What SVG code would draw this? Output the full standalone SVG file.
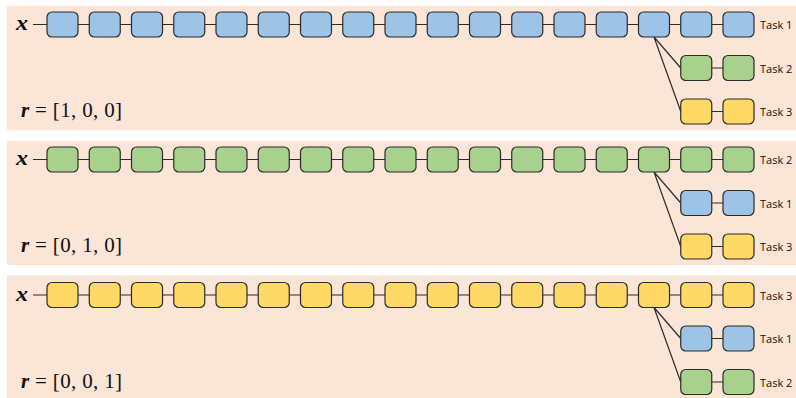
<svg xmlns="http://www.w3.org/2000/svg" xmlns:xlink="http://www.w3.org/1999/xlink" width="796" height="398" viewBox="0 0 796 398">
<style>
.bg{fill:#FBE5D6;}
.b{fill:#9DC3E6;stroke:#2b2b2b;stroke-width:1.2;}
.g{fill:#A9D18E;stroke:#2b2b2b;stroke-width:1.2;}
.y{fill:#FFD966;stroke:#2b2b2b;stroke-width:1.2;}
.ln{stroke:#2b2b2b;stroke-width:1.2;fill:none;}
.task{font-family:"Open Sans","Liberation Sans",sans-serif;font-size:11px;fill:#111;}
.math{font-family:"Liberation Serif","DejaVu Serif",serif;font-size:21px;fill:#111;}
.mb{font-weight:bold;font-style:italic;}
</style>
<defs>
<g id="conn">
<path class="ln" d="M33 24.5H47 M78 24.5H89.25 M120.25 24.5H131.5 M162.5 24.5H173.75 M204.75 24.5H216 M247 24.5H258.25 M289.25 24.5H300.5 M331.5 24.5H342.75 M373.75 24.5H385 M416 24.5H427.25 M458.25 24.5H469.5 M500.5 24.5H511.75 M542.75 24.5H554 M585 24.5H596.25 M627.25 24.5H638.5 M669.5 24.5H680.75 M711.75 24.5H723 M711.75 68H723 M711.75 111.5H723 M654 37L680.75 68 M654 37L680.75 111.5"/>
</g>
</defs>

<!-- Panel 1 -->
<g id="panel1">
<rect class="bg" x="7" y="6" width="789" height="124"/>
<g id="connectors1"><use xlink:href="#conn"/></g>
<g id="p1n1"><rect class="b" x="47" y="12" width="31" height="25" rx="5"/></g>
<g id="p1n2"><rect class="b" x="89.25" y="12" width="31" height="25" rx="5"/></g>
<g id="p1n3"><rect class="b" x="131.5" y="12" width="31" height="25" rx="5"/></g>
<g id="p1n4"><rect class="b" x="173.75" y="12" width="31" height="25" rx="5"/></g>
<g id="p1n5"><rect class="b" x="216" y="12" width="31" height="25" rx="5"/></g>
<g id="p1n6"><rect class="b" x="258.25" y="12" width="31" height="25" rx="5"/></g>
<g id="p1n7"><rect class="b" x="300.5" y="12" width="31" height="25" rx="5"/></g>
<g id="p1n8"><rect class="b" x="342.75" y="12" width="31" height="25" rx="5"/></g>
<g id="p1n9"><rect class="b" x="385" y="12" width="31" height="25" rx="5"/></g>
<g id="p1n10"><rect class="b" x="427.25" y="12" width="31" height="25" rx="5"/></g>
<g id="p1n11"><rect class="b" x="469.5" y="12" width="31" height="25" rx="5"/></g>
<g id="p1n12"><rect class="b" x="511.75" y="12" width="31" height="25" rx="5"/></g>
<g id="p1n13"><rect class="b" x="554" y="12" width="31" height="25" rx="5"/></g>
<g id="p1n14"><rect class="b" x="596.25" y="12" width="31" height="25" rx="5"/></g>
<g id="p1n15"><rect class="b" x="638.5" y="12" width="31" height="25" rx="5"/></g>
<g id="p1n16"><rect class="b" x="680.75" y="12" width="31" height="25" rx="5"/></g>
<g id="p1n17"><rect class="b" x="723" y="12" width="31" height="25" rx="5"/></g>
<g id="p1b1"><rect class="g" x="680.75" y="55.5" width="31" height="25" rx="5"/></g>
<g id="p1b2"><rect class="g" x="723" y="55.5" width="31" height="25" rx="5"/></g>
<g id="p1c1"><rect class="y" x="680.75" y="99" width="31" height="25" rx="5"/></g>
<g id="p1c2"><rect class="y" x="723" y="99" width="31" height="25" rx="5"/></g>
<text class="task" x="760" y="29">Task 1</text>
<text class="task" x="760" y="72.5">Task 2</text>
<text class="task" x="760" y="116">Task 3</text>
<text class="math mb" x="16" y="30" textLength="12" lengthAdjust="spacingAndGlyphs">x</text>
<text class="math" x="21" y="117" textLength="101" lengthAdjust="spacing"><tspan class="mb">r</tspan> = [1, 0, 0]</text>
</g>

<!-- Panel 2 -->
<g id="panel2" transform="translate(0,135)">
<rect class="bg" x="7" y="6" width="789" height="124"/>
<g id="connectors2"><use xlink:href="#conn"/></g>
<g id="p2n1"><rect class="g" x="47" y="12" width="31" height="25" rx="5"/></g>
<g id="p2n2"><rect class="g" x="89.25" y="12" width="31" height="25" rx="5"/></g>
<g id="p2n3"><rect class="g" x="131.5" y="12" width="31" height="25" rx="5"/></g>
<g id="p2n4"><rect class="g" x="173.75" y="12" width="31" height="25" rx="5"/></g>
<g id="p2n5"><rect class="g" x="216" y="12" width="31" height="25" rx="5"/></g>
<g id="p2n6"><rect class="g" x="258.25" y="12" width="31" height="25" rx="5"/></g>
<g id="p2n7"><rect class="g" x="300.5" y="12" width="31" height="25" rx="5"/></g>
<g id="p2n8"><rect class="g" x="342.75" y="12" width="31" height="25" rx="5"/></g>
<g id="p2n9"><rect class="g" x="385" y="12" width="31" height="25" rx="5"/></g>
<g id="p2n10"><rect class="g" x="427.25" y="12" width="31" height="25" rx="5"/></g>
<g id="p2n11"><rect class="g" x="469.5" y="12" width="31" height="25" rx="5"/></g>
<g id="p2n12"><rect class="g" x="511.75" y="12" width="31" height="25" rx="5"/></g>
<g id="p2n13"><rect class="g" x="554" y="12" width="31" height="25" rx="5"/></g>
<g id="p2n14"><rect class="g" x="596.25" y="12" width="31" height="25" rx="5"/></g>
<g id="p2n15"><rect class="g" x="638.5" y="12" width="31" height="25" rx="5"/></g>
<g id="p2n16"><rect class="g" x="680.75" y="12" width="31" height="25" rx="5"/></g>
<g id="p2n17"><rect class="g" x="723" y="12" width="31" height="25" rx="5"/></g>
<g id="p2b1"><rect class="b" x="680.75" y="55.5" width="31" height="25" rx="5"/></g>
<g id="p2b2"><rect class="b" x="723" y="55.5" width="31" height="25" rx="5"/></g>
<g id="p2c1"><rect class="y" x="680.75" y="99" width="31" height="25" rx="5"/></g>
<g id="p2c2"><rect class="y" x="723" y="99" width="31" height="25" rx="5"/></g>
<text class="task" x="760" y="29">Task 2</text>
<text class="task" x="760" y="72.5">Task 1</text>
<text class="task" x="760" y="116">Task 3</text>
<text class="math mb" x="16" y="30" textLength="12" lengthAdjust="spacingAndGlyphs">x</text>
<text class="math" x="21" y="117" textLength="101" lengthAdjust="spacing"><tspan class="mb">r</tspan> = [0, 1, 0]</text>
</g>

<!-- Panel 3 -->
<g id="panel3" transform="translate(0,270.5)">
<rect class="bg" x="7" y="5" width="789" height="124"/>
<g id="connectors3"><use xlink:href="#conn"/></g>
<g id="p3n1"><rect class="y" x="47" y="12" width="31" height="25" rx="5"/></g>
<g id="p3n2"><rect class="y" x="89.25" y="12" width="31" height="25" rx="5"/></g>
<g id="p3n3"><rect class="y" x="131.5" y="12" width="31" height="25" rx="5"/></g>
<g id="p3n4"><rect class="y" x="173.75" y="12" width="31" height="25" rx="5"/></g>
<g id="p3n5"><rect class="y" x="216" y="12" width="31" height="25" rx="5"/></g>
<g id="p3n6"><rect class="y" x="258.25" y="12" width="31" height="25" rx="5"/></g>
<g id="p3n7"><rect class="y" x="300.5" y="12" width="31" height="25" rx="5"/></g>
<g id="p3n8"><rect class="y" x="342.75" y="12" width="31" height="25" rx="5"/></g>
<g id="p3n9"><rect class="y" x="385" y="12" width="31" height="25" rx="5"/></g>
<g id="p3n10"><rect class="y" x="427.25" y="12" width="31" height="25" rx="5"/></g>
<g id="p3n11"><rect class="y" x="469.5" y="12" width="31" height="25" rx="5"/></g>
<g id="p3n12"><rect class="y" x="511.75" y="12" width="31" height="25" rx="5"/></g>
<g id="p3n13"><rect class="y" x="554" y="12" width="31" height="25" rx="5"/></g>
<g id="p3n14"><rect class="y" x="596.25" y="12" width="31" height="25" rx="5"/></g>
<g id="p3n15"><rect class="y" x="638.5" y="12" width="31" height="25" rx="5"/></g>
<g id="p3n16"><rect class="y" x="680.75" y="12" width="31" height="25" rx="5"/></g>
<g id="p3n17"><rect class="y" x="723" y="12" width="31" height="25" rx="5"/></g>
<g id="p3b1"><rect class="b" x="680.75" y="55.5" width="31" height="25" rx="5"/></g>
<g id="p3b2"><rect class="b" x="723" y="55.5" width="31" height="25" rx="5"/></g>
<g id="p3c1"><rect class="g" x="680.75" y="99" width="31" height="25" rx="5"/></g>
<g id="p3c2"><rect class="g" x="723" y="99" width="31" height="25" rx="5"/></g>
<text class="task" x="760" y="29">Task 3</text>
<text class="task" x="760" y="72.5">Task 1</text>
<text class="task" x="760" y="116">Task 2</text>
<text class="math mb" x="16" y="30" textLength="12" lengthAdjust="spacingAndGlyphs">x</text>
<text class="math" x="21" y="117" textLength="101" lengthAdjust="spacing"><tspan class="mb">r</tspan> = [0, 0, 1]</text>
</g>
</svg>
